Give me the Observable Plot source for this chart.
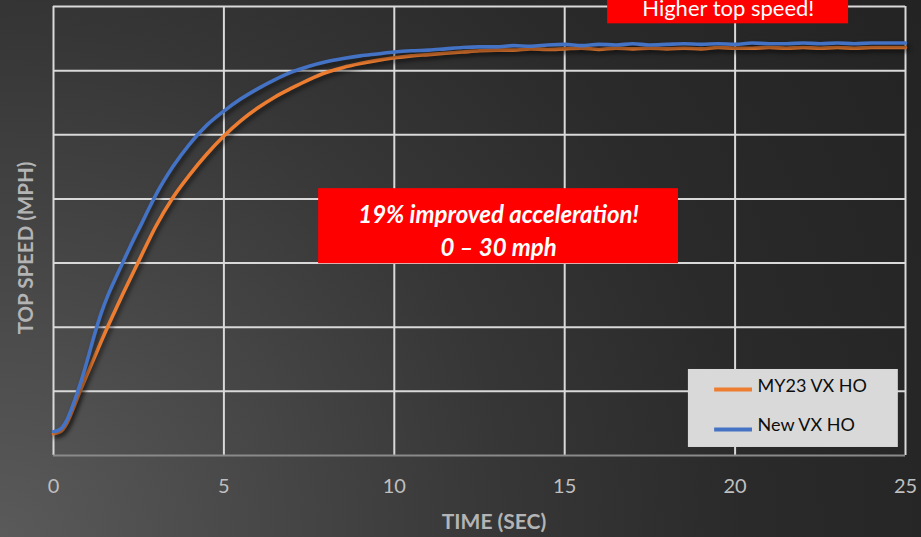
<!DOCTYPE html>
<html>
<head>
<meta charset="utf-8">
<script src="https://cdn.jsdelivr.net/npm/d3@7"></script>
<script src="https://cdn.jsdelivr.net/npm/@observablehq/plot@0.6"></script>
<style>
  html, body { margin: 0; padding: 0; background: #242424; }
  #chart {
    width: 921px; height: 537px; overflow: hidden;
    background: radial-gradient(circle at 0% 100%, #5a5a5a 0%, #474747 25%, #363636 48%, #2a2a2a 70%, #232323 100%);
  }
  #chart svg { display: block; font-family: Lato, "Open Sans", sans-serif; }
</style>
</head>
<body>
<div id="chart"></div>
<script>
// ---- data ----
const time = [
  0, 0.2, 0.4, 0.6, 0.8, 1.0, 1.2, 1.4, 1.6, 1.8, 2.0, 2.2, 2.4, 2.6, 2.8, 3.0,
  3.5, 4, 4.5, 5, 5.5, 6, 6.5, 7, 7.5, 8, 8.5, 9, 9.5, 10,
  10.5, 11, 11.5, 12, 12.5, 13, 13.5, 14, 14.5, 15, 15.5, 16, 16.5, 17, 17.5,
  18, 18.5, 19, 19.5, 20, 20.5, 21, 21.5, 22, 22.5, 23, 23.5, 24, 24.5, 25
];
const my23VXHO = [
  3.4, 3.7, 5.1, 7.6, 10.3, 12.8, 15.3, 17.8, 20.2, 22.5, 24.8, 27.0, 29.2, 31.4, 33.6, 35.7,
  40.2, 43.8, 47.0, 49.8, 52.2, 54.2, 55.9, 57.3, 58.6, 59.7, 60.5, 61.1, 61.6, 62.0,
  62.3, 62.5, 62.7, 62.9, 63.1, 63.2, 63.2, 63.4, 63.3, 63.4, 63.5, 63.3, 63.5, 63.4, 63.5,
  63.4, 63.5, 63.4, 63.6, 63.5, 63.5, 63.6, 63.5, 63.6, 63.5, 63.6, 63.5, 63.6, 63.6, 63.6
];
const newVXHO = [
  3.7, 4.1, 5.6, 8.3, 11.4, 15.0, 18.8, 22.2, 25.0, 27.4, 29.7, 32.0, 34.2, 36.3, 38.5, 40.6,
  45.0, 48.6, 51.5, 53.7, 55.6, 57.2, 58.6, 59.8, 60.7, 61.4, 61.9, 62.3, 62.6, 62.9,
  63.1, 63.2, 63.4, 63.6, 63.7, 63.7, 63.9, 63.8, 64.0, 64.1, 63.9, 64.1, 64.0, 64.2, 64.0,
  64.1, 64.2, 64.1, 64.2, 64.1, 64.3, 64.2, 64.2, 64.3, 64.2, 64.3, 64.2, 64.3, 64.3, 64.3
];
const seriesNames = ["MY23 VX HO", "New VX HO"];
const seriesColors = ["#ed7d31", "#4472c4"];
const xTicks = [0, 5, 10, 15, 20, 25];
const yGrid = [10, 20, 30, 40, 50, 60, 70];
const xTitle = "TIME (SEC)";
const yTitle = "TOP SPEED (MPH)";
const noteAccel = "19% improved acceleration!\n0 \u2013 30 mph";
const noteTop = "Higher top speed!";

// ---- table built from the arrays ----
const rows = [];
time.forEach((t, i) => rows.push({t, v: my23VXHO[i], s: seriesNames[0]}));
time.forEach((t, i) => rows.push({t, v: newVXHO[i], s: seriesNames[1]}));

// annotation anchors (in data units)
const accelBox = {x1: 7.78, x2: 18.34, y1: 29.9, y2: 41.6, tx: 13.06, ty: 35.3};
const topBox = {x1: 16.26, x2: 23.33, y1: 67.3, y2: 73, tx: 19.8, ty: 69.55};
const legendBox = {x1: 18.63, x2: 24.79, y1: 1.25, y2: 13.41, lx1: 19.40, lx2: 20.51, tx: 20.66};
const legendRows = [
  {name: seriesNames[0], color: seriesColors[0], ly: 10.29, ty: 10.8},
  {name: seriesNames[1], color: seriesColors[1], ly: 4.05, ty: 4.7}
];

const chart = Plot.plot({
  width: 921,
  height: 537,
  marginLeft: 53,
  marginRight: 16,
  marginTop: 6,
  marginBottom: 82,
  style: {background: "transparent", overflow: "hidden"},
  x: {domain: [0, 25]},
  y: {domain: [0, 70], axis: null},
  color: {domain: seriesNames, range: seriesColors},
  marks: [
    Plot.ruleY(yGrid, {stroke: "#d9d9d9", strokeWidth: 2}),
    Plot.ruleX(xTicks, {stroke: "#d9d9d9", strokeWidth: 2}),
    Plot.ruleY([0], {stroke: "#8a8a8a", strokeWidth: 2}),
    Plot.axisX(xTicks, {tickSize: 0, tickPadding: 23, fontSize: 20, fill: "#bfbfbf", label: null}),
    Plot.line(rows, {x: "t", y: "v", z: "s", stroke: "s", strokeWidth: 3.6, curve: "monotone-x"}),
    // annotations
    Plot.rect([accelBox], {x1: "x1", x2: "x2", y1: "y1", y2: "y2", fill: "#ff0000"}),
    Plot.text([accelBox], {x: "tx", y: "ty", text: () => noteAccel, fill: "white", fontSize: 24,
      fontWeight: "bold", fontStyle: "italic", lineHeight: 1.35, lineAnchor: "middle"}),
    Plot.rect([topBox], {x1: "x1", x2: "x2", y1: "y1", y2: "y2", fill: "#ff0000"}),
    Plot.text([topBox], {x: "tx", y: "ty", text: () => noteTop, fill: "white", fontSize: 22, lineAnchor: "middle"}),
    // legend
    Plot.rect([legendBox], {x1: "x1", x2: "x2", y1: "y1", y2: "y2", fill: "#d9d9d9"}),
    Plot.ruleY(legendRows, {y: "ly", x1: () => legendBox.lx1, x2: () => legendBox.lx2, stroke: "color", strokeWidth: 4}),
    Plot.text(legendRows, {x: () => legendBox.tx, y: "ty", text: "name", textAnchor: "start", fontSize: 18, fill: "#0d0d0d"}),
    // axis titles
    Plot.text([xTitle], {frameAnchor: "bottom", dx: 14.5, dy: 67, text: d => d, fontSize: 21,
      fontWeight: "bold", fill: "#b4b4b4", lineAnchor: "middle", textAnchor: "middle"}),
    Plot.text([yTitle], {frameAnchor: "left", dx: -27, dy: 17, rotate: -90, text: d => d, fontSize: 20.5,
      fontWeight: "bold", fill: "#b4b4b4", lineAnchor: "middle", textAnchor: "middle"})
  ]
});

// soft drop shadow under the two series lines, like the original
d3.select(chart).selectAll('g[aria-label="line"] path')
  .style("filter", "drop-shadow(2px 3px 2px rgba(0,0,0,0.55))");

document.getElementById("chart").appendChild(chart);
</script>
</body>
</html>
